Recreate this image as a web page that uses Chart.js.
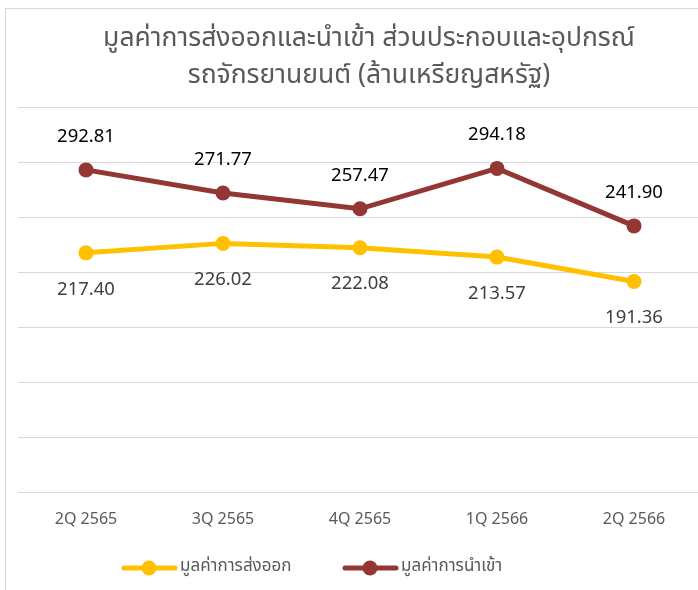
<!DOCTYPE html>
<html><head><meta charset="utf-8">
<script src="https://cdn.jsdelivr.net/npm/chart.js@4"></script>
<style>
html,body{margin:0;padding:0;background:#fff;overflow:hidden;width:698px;height:590px;}
#frame{position:absolute;left:5px;top:8px;width:720px;height:600px;border-left:1px solid #d9d9d9;border-top:1px solid #d9d9d9;}
#wrap{position:absolute;left:0;top:0;width:720px;height:600px;}
</style></head>
<body>
<div id="frame"></div>
<div id="wrap"><canvas id="c"></canvas></div>
<script>
const categories = ['2Q 2565','3Q 2565','4Q 2565','1Q 2566','2Q 2566'];
const exportValues = [217.40, 226.02, 222.08, 213.57, 191.36];
const importValues = [292.81, 271.77, 257.47, 294.18, 241.90];
const seriesNames = ['มูลค่าการส่งออก','มูลค่าการนำเข้า'];
const titleLines = ['มูลค่าการส่งออกและนำเข้า ส่วนประกอบและอุปกรณ์','รถจักรยานยนต์ (ล้านเหรียญสหรัฐ)'];

const FONT = 'Tahoma, "Noto Sans Thai", "Noto Sans", "DejaVu Sans", sans-serif';
const EXP_COLOR = '#FFC000';
const IMP_COLOR = '#943634';

const decor = {
  id: 'decor',
  afterDatasetsDraw(chart) {
    const ctx = chart.ctx;
    ctx.save();
    // title
    ctx.fillStyle = '#595959';
    ctx.font = '26.5px ' + FONT;
    ctx.textAlign = 'center';
    ctx.textBaseline = 'middle';
    ctx.fillText(titleLines[0], 369, 41);
    ctx.fillText(titleLines[1], 369, 78);
    // data labels
    ctx.font = '18.5px ' + FONT;
    const mImp = chart.getDatasetMeta(1), mExp = chart.getDatasetMeta(0);
    mImp.data.forEach((p, i) => {
      ctx.fillStyle = '#000000';
      ctx.fillText(importValues[i].toFixed(2), p.x, p.y - 32);
    });
    mExp.data.forEach((p, i) => {
      ctx.fillStyle = '#404040';
      ctx.fillText(exportValues[i].toFixed(2), p.x, p.y + 38);
    });
    // legend
    const items = [[seriesNames[0], EXP_COLOR, 122], [seriesNames[1], IMP_COLOR, 343]];
    ctx.font = '17px ' + FONT;
    ctx.textAlign = 'left';
    items.forEach(([t, col, x0]) => {
      const y = 568;
      ctx.strokeStyle = col; ctx.lineWidth = 5; ctx.lineCap = 'round';
      ctx.beginPath(); ctx.moveTo(x0 + 2, y); ctx.lineTo(x0 + 53, y); ctx.stroke();
      ctx.fillStyle = col;
      ctx.beginPath(); ctx.arc(x0 + 27, y, 7.5, 0, Math.PI * 2); ctx.fill();
      ctx.fillStyle = '#595959';
      ctx.fillText(t, x0 + 58, y);
    });
    ctx.restore();
  }
};

new Chart(document.getElementById('c'), {
  type: 'line',
  data: {
    labels: categories,
    datasets: [
      { label: seriesNames[0], data: exportValues, borderColor: EXP_COLOR, backgroundColor: EXP_COLOR,
        borderWidth: 5, pointRadius: 7.5, pointHoverRadius: 7.5, tension: 0, pointBorderWidth: 0 },
      { label: seriesNames[1], data: importValues, borderColor: IMP_COLOR, backgroundColor: IMP_COLOR,
        borderWidth: 5, pointRadius: 7.5, pointHoverRadius: 7.5, tension: 0, pointBorderWidth: 0 }
    ]
  },
  options: {
    responsive: true, maintainAspectRatio: false, animation: false,
    layout: { padding: { left: 17.5, right: 17.5, top: 107, bottom: 68 } },
    plugins: { legend: { display: false }, title: { display: false }, tooltip: { enabled: false } },
    scales: {
      x: {
        offset: true,
        grid: { display: false, drawTicks: false },
        border: { display: false },
        ticks: { color: '#595959', font: { family: FONT, size: 16 }, padding: 19, maxRotation: 0 },
        afterFit: s => { s.height = 40; }
      },
      y: {
        min: 0, max: 350,
        grid: { color: '#d9d9d9', lineWidth: 1, drawTicks: false },
        border: { display: false },
        ticks: { display: false, stepSize: 50 },
        afterFit: s => { s.width = 0; }
      }
    }
  },
  plugins: [decor]
});
</script>
</body></html>
